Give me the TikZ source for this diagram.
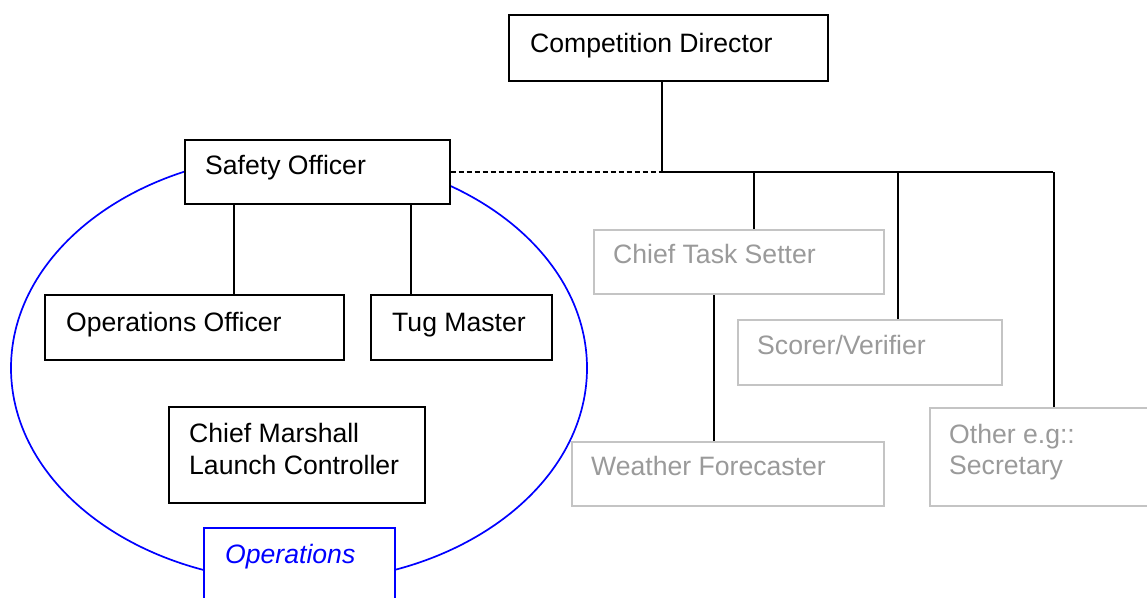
\documentclass[tikz,border=0pt]{standalone}
\usepackage{fontspec}
\setmainfont{Liberation Sans}
\usetikzlibrary{calc}
\definecolor{paleline}{HTML}{C4C4C4}
\definecolor{paletext}{HTML}{9A9A9A}
\definecolor{opsblue}{HTML}{0000FF}
\begin{document}
\begin{tikzpicture}[x=1pt,y=-1pt,
  every node/.style={font=\fontsize{26.6}{31}\selectfont},
  post/.style={draw=black,line width=1.7pt,fill=white,inner sep=0pt,anchor=north west},
  lightpost/.style={draw=paleline,line width=1.7pt,fill=white,inner sep=0pt,anchor=north west},
  caption/.style={anchor=base west,inner sep=0pt},
  lightcaption/.style={caption,text=paletext},
  link/.style={draw=black,line width=1.6pt},
  advisory/.style={draw=black,line width=1.2pt,dash pattern=on 5pt off 3pt},
  team/.style={draw=opsblue,line width=1.7pt}
]
\useasboundingbox (0,0) rectangle (1147,597);
\clip (0,0) rectangle (1147,597);

% operations group outline
\draw[team] (299,368) ellipse [x radius=288, y radius=214];

% boxes
\node[post, minimum width=319, minimum height=66] (cd) at (508,14) {};
\node[post, minimum width=265, minimum height=64] (so) at (184,139) {};
\node[post, minimum width=299, minimum height=65] (oo) at (44,294) {};
\node[post, minimum width=181, minimum height=65] (tm) at (370,294) {};
\node[post, minimum width=256, minimum height=96] (cm) at (168,406) {};
\node[draw=opsblue,line width=1.7pt,fill=white,inner sep=0pt,anchor=north west,
      minimum width=191, minimum height=100] (ops) at (203,527) {};
\node[lightpost, minimum width=290, minimum height=64] (cts) at (593,229) {};
\node[lightpost, minimum width=264, minimum height=65] (sv) at (737,319) {};
\node[lightpost, minimum width=312, minimum height=64] (wf) at (571,441) {};
\node[lightpost, minimum width=248, minimum height=98] (oth) at (929,407) {};

% box texts
\node[caption] (cdt) at (530,52) {Competition Director};
\node[caption] (sot) at (205,174) {Safety Officer};
\node[caption] (oot) at (66,331) {Operations Officer};
\node[caption] (tmt) at (392,331) {Tug Master};
\node[caption] (cmt1) at (189,442) {Chief Marshall};
\node[caption] (cmt2) at (189,474) {Launch Controller};
\node[caption,text=opsblue,font=\fontsize{26.6}{31}\selectfont\itshape] (opst) at (225,563) {Operations};
\node[lightcaption] (ctst) at (613,263) {Chief Task Setter};
\node[lightcaption] (svt) at (757,354) {Scorer/Verifier};
\node[lightcaption] (wft) at (591,475) {Weather Forecaster};
\node[lightcaption] (otht1) at (949,443) {Other e.g::};
\node[lightcaption] (otht2) at (949,474) {Secretary};

% reporting lines
\coordinate (hub) at (662,172);
\coordinate (railend) at (1053,172);
\draw[link] (hub |- cd.south) -- (hub) -- (railend);
\draw[advisory] (so.east |- hub) -- (hub);
\draw[link] ([xshift=15]cts.north) -- ([xshift=15]cts.north |- hub);
\draw[link] ([xshift=28]sv.north) -- ([xshift=28]sv.north |- hub);
\draw[link] (oth.north) -- (oth.north |- railend);
\draw[link] ([xshift=-14]wf.north) -- ([xshift=-14]wf.north |- cts.south);
\draw[link] ([xshift=-83.5]so.south) -- ([xshift=-83.5]so.south |- oo.north);
\draw[link] ([xshift=93.5]so.south) -- ([xshift=93.5]so.south |- tm.north);
\end{tikzpicture}
\end{document}
